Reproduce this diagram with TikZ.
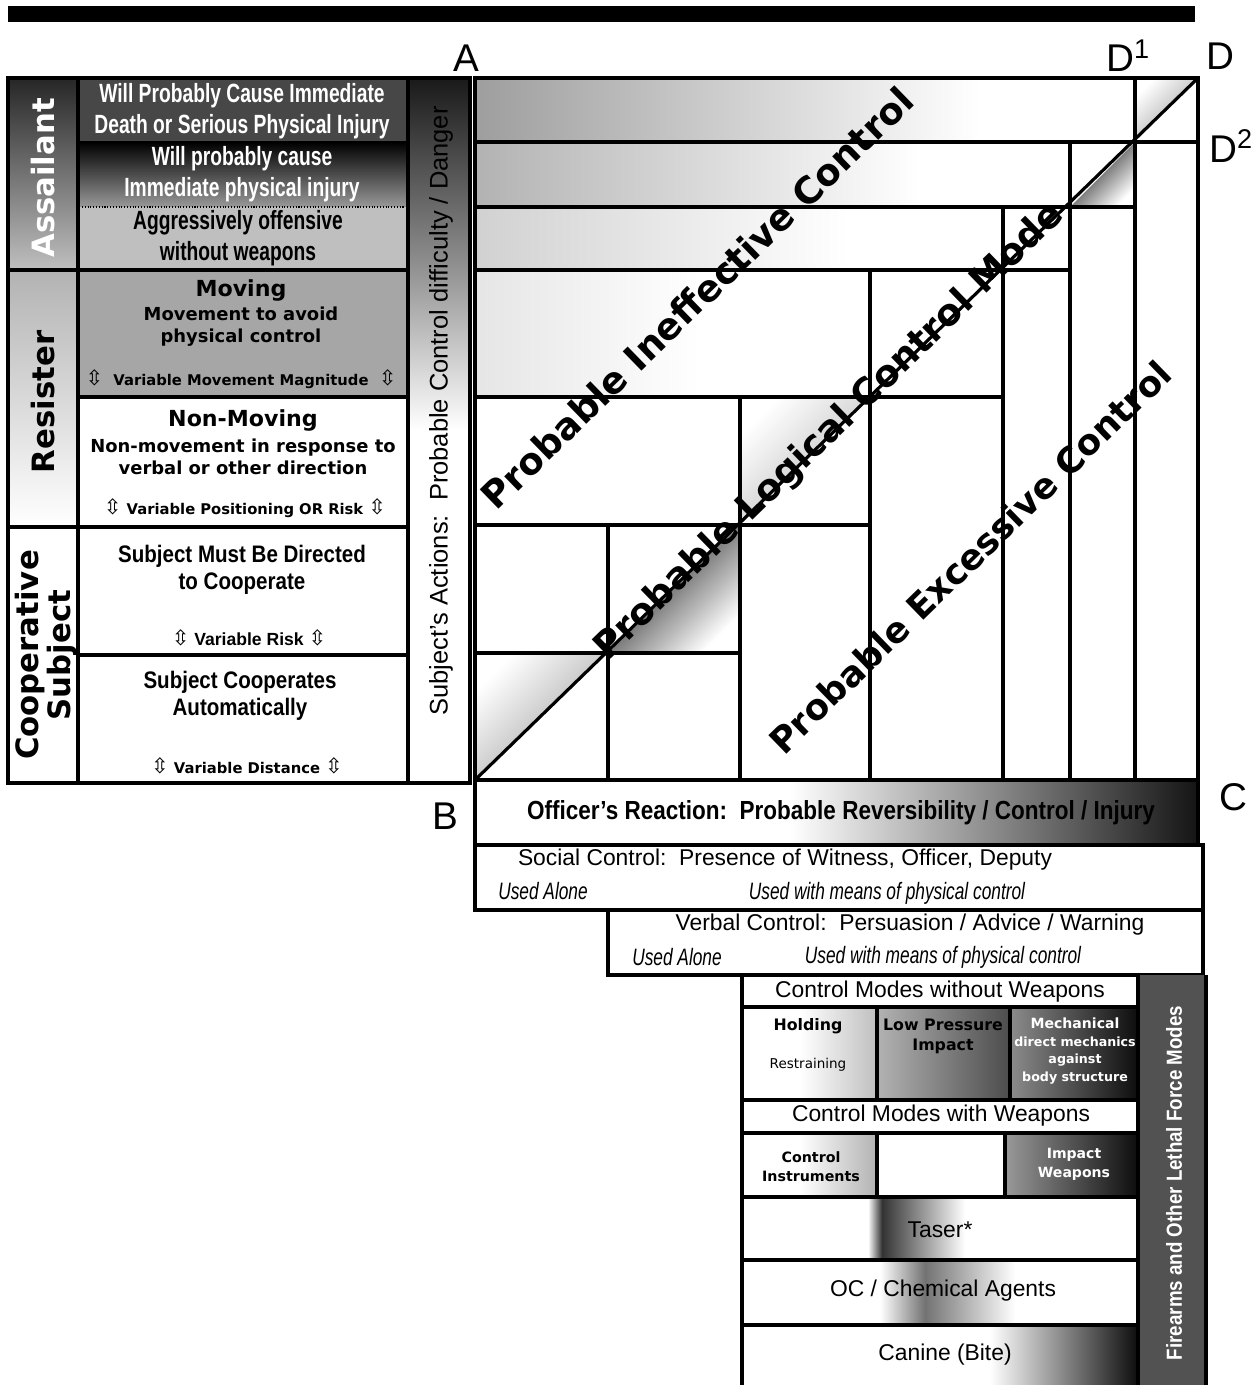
\documentclass[tikz,border=0pt]{standalone}
\usepackage{fontspec}
\setmainfont{Liberation Sans}
\newfontfamily\narrowfont[FakeStretch=0.73]{Liberation Sans}
\newfontfamily\semifont[FakeStretch=0.86]{Liberation Sans}
\newfontfamily\widefont{DejaVu Sans}
\newfontfamily\arrfont{DejaVu Sans}
\usetikzlibrary{positioning,calc}
\newcommand{\updn}{{\arrfont\mdseries\fontsize{12}{12}\selectfont ⇳}}

\begin{document}
\begin{tikzpicture}[x=0.02cm, y=-0.02cm]

    \tikzstyle{boxLine}=[line width=1.8pt, draw=black]
    \tikzstyle{dotLine}=[line width=0.6pt, draw=black, densely dotted]
    \tikzstyle{cellText}=[align=center, inner sep=0pt]
    \tikzstyle{condText}=[cellText, font=\narrowfont\bfseries\fontsize{15}{17.6}\selectfont]
    \tikzstyle{semiText}=[cellText, font=\semifont\bfseries\fontsize{13.6}{15.4}\selectfont]
    \tikzstyle{wideHead}=[cellText, font=\widefont\bfseries\fontsize{12.6}{14}\selectfont]
    \tikzstyle{wideText}=[cellText, font=\widefont\bfseries\fontsize{10.2}{12.5}\selectfont]
    \tikzstyle{wideSmall}=[cellText, font=\widefont\bfseries\fontsize{8.4}{10}\selectfont]
    \tikzstyle{category}=[cellText, rotate=90, font=\widefont\bfseries\fontsize{17.5}{18}\selectfont]
    \tikzstyle{zoneText}=[cellText, rotate=44.2, font=\widefont\bfseries\fontsize{21}{24}\selectfont]
    \tikzstyle{cornerLabel}=[inner sep=0pt, font=\fontsize{22}{24}\selectfont]
    \tikzstyle{plainText}=[cellText, font=\fontsize{13}{15}\selectfont]
    \tikzstyle{usedText}=[cellText, font=\narrowfont\itshape\fontsize{13.5}{15}\selectfont]
    \tikzstyle{modeText}=[cellText, font=\widefont\bfseries\fontsize{9}{11.3}\selectfont]

    \useasboundingbox (0,0) rectangle (1260,1385);
    \fill[white] (0,0) rectangle (1260,1385);

    % Spacing of the chart
    \def\gridL{475}
    \def\gridR{1198}
    \def\gridT{78}
    \def\gridB{780}

    % Title bar
    \fill[black] (8,6) rectangle (1195,22);

    % Subject side: backgrounds
    \shade[top color=black!85, bottom color=black!25] (8,78) rectangle (78,270);
    \fill[black!72] (78,78) rectangle (408,142);
    \shade[top color=black, bottom color=black!40] (78,142) rectangle (408,207);
    \fill[black!25] (78,207) rectangle (408,270);
    \shade[top color=black!30, bottom color=white] (8,270) rectangle (78,527);
    \fill[black!35] (78,270) rectangle (408,397);
    \shade[top color=black!90, bottom color=black!45] (408,78) rectangle (470,260);
    \shade[top color=black!45, bottom color=white] (408,260) rectangle (470,430);

    % Subject side: lines
    \draw[boxLine] (8,78) rectangle (470,783);
    \draw[boxLine] (78,78) -- (78,783);
    \draw[boxLine] (408,78) -- (408,783);
    \draw[boxLine] (8,270) -- (408,270);
    \draw[boxLine] (8,527) -- (408,527);
    \draw[boxLine] (78,397) -- (408,397);
    \draw[boxLine] (78,655) -- (408,655);
    \draw[dotLine] (82,142) -- (404,142);
    \draw[dotLine] (82,207) -- (404,207);

    % Subject categories
    \node at (43,178) [category, text=white] (assailant) {Assailant};
    \node at (43,402) [category] (resister) {Resister};
    \node at (46,655) [category] (cooperative) {Cooperative\\Subject};

    % Subject actions
    \node at (242,111) [condText, text=white] (deadly) {Will Probably Cause Immediate\\Death or Serious Physical Injury};
    \node at (242,174) [condText, text=white] (injury) {Will probably cause\\Immediate physical injury};
    \node at (238,238) [condText] (offensive) {Aggressively offensive\\without weapons};
    \node at (241,290) [wideHead] (moving) {Moving};
    \node at (241,327) [wideText] (movingSub) {Movement to avoid\\physical control};
    \node at (241,379) [wideSmall] (movingVar) {\updn\ \ Variable Movement Magnitude\ \ \updn};
    \node at (243,420) [wideHead] (nonMoving) {Non-Moving};
    \node at (243,457) [wideText] (nonMovingSub) {Non-movement in response to\\verbal or other direction};
    \node at (245,508) [wideSmall] (nonMovingVar) {\updn\ Variable Positioning OR Risk \updn};
    \node at (242,570) [semiText] (directed) {Subject Must Be Directed\\to Cooperate};
    \node at (249,638) [cellText, font=\bfseries\fontsize{10}{12}\selectfont] (directedVar) {\updn\ Variable Risk \updn};
    \node at (240,696) [semiText] (automatic) {Subject Cooperates\\Automatically};
    \node at (247,766) [wideSmall] (automaticVar) {\updn\ Variable Distance \updn};
    \node at (441,411) [cellText, rotate=90, font=\fontsize{14.5}{16}\selectfont] (danger) {Subject’s Actions:\ \ Probable Control difficulty / Danger};

    % Grid: shading
    \shade[left color=black!38, right color=white] (477,80) rectangle (980,141);
    \shade[left color=black!30, right color=white] (477,143) rectangle (920,206);
    \shade[left color=black!18, right color=white] (477,208) rectangle (850,269);
    \shade[left color=black!10, right color=white] (477,271) rectangle (700,396);
    \shade[top color=black, middle color=black!60, bottom color=white, shading angle=45] (608,653) -- (740,525) -- (740,653) -- cycle;
    \shade[top color=black, middle color=black!65, bottom color=white, shading angle=45] (1070,207) -- (1135,142) -- (1135,207) -- cycle;
    \shade[top color=white, middle color=black!25, bottom color=black!40, shading angle=45] (475,780) -- (608,653) -- (475,653) -- cycle;
    \shade[top color=white, middle color=black!25, bottom color=black!40, shading angle=45] (1135,142) -- (1198,78) -- (1135,78) -- cycle;
    \shade[top color=white, middle color=black!18, bottom color=black!30, shading angle=45] (740,525) -- (870,397) -- (740,397) -- cycle;

    % Grid: staircase
    \draw[boxLine] (\gridL,\gridT) rectangle (\gridR,\gridB);
    \foreach \xa/\ya/\xb/\yb in {608/653/740/525, 740/525/870/397, 870/397/1003/270, 1003/270/1070/207, 1070/207/1135/142, 1135/142/1198/78}
        \draw[boxLine] (\gridL,\ya) -- (\xb,\ya) (\xa,\gridB) -- (\xa,\yb);

    % Corners
    \coordinate (B) at (\gridL,\gridB);
    \coordinate (D) at (\gridR,\gridT);
    \draw[boxLine] (B) -- (D);
    \node at (466,58) [cornerLabel] (labA) {A};
    \node at (1128,56) [cornerLabel] (labD1) {D\textsuperscript{1}};
    \node at (1220,56) [cornerLabel] (labD) {D};
    \node at (1231,146) [cornerLabel] (labD2) {D\textsuperscript{2}};
    \node at (445,816) [cornerLabel] (labB) {B};
    \node at (1233,797) [cornerLabel] (labC) {C};

    % Zones
    \node at (697,298) [zoneText] (ineffective) {Probable Ineffective Control};
    \node at (830,432) [zoneText] (logical) {Probable Logical Control Mode};
    \node at (970,557) [zoneText, font=\widefont\bfseries\fontsize{20.2}{24}\selectfont] (excessive) {Probable Excessive Control};

    % Officer side: bands
    \shade[left color=white, right color=black!92] (790,780) rectangle (1198,845);
    \draw[boxLine] (\gridL,\gridB) rectangle (\gridR,845);
    \draw[boxLine] (475,845) rectangle (1203,910);
    \draw[boxLine] (608,910) rectangle (1203,975);
    \node at (841,813) [cellText, font=\semifont\bfseries\fontsize{14.9}{16}\selectfont] (reaction) {Officer’s Reaction:\ \ Probable Reversibility / Control / Injury};
    \node at (785,860) [plainText] (social) {Social Control:\ \ Presence of Witness, Officer, Deputy};
    \node at (543,891) [usedText] (socialAlone) {Used Alone};
    \node at (887,893) [usedText] (socialWith) {Used with means of physical control};
    \node at (910,925) [plainText] (verbal) {Verbal Control:\ \ Persuasion / Advice / Warning};
    \node at (677,957) [usedText] (verbalAlone) {Used Alone};
    \node at (943,957) [usedText] (verbalWith) {Used with means of physical control};

    % Officer side: control modes
    \fill[black!68] (1138,975) rectangle (1206,1385);
    \shade[left color=white, right color=black!25] (800,1007) rectangle (877,1100);
    \shade[left color=black!30, right color=black!70] (877,1007) rectangle (1010,1100);
    \shade[left color=black!45, right color=black!95] (1010,1007) rectangle (1138,1100);
    \shade[left color=white, right color=black!30] (800,1133) rectangle (877,1197);
    \shade[left color=black!40, right color=black!95] (1005,1133) rectangle (1138,1197);
    \shade[left color=white, right color=black!80] (868,1197) rectangle (882,1260);
    \shade[left color=black!80, right color=white] (882,1197) rectangle (965,1260);
    \shade[left color=white, right color=black!55] (880,1260) rectangle (925,1325);
    \shade[left color=black!55, right color=white] (925,1260) rectangle (1015,1325);
    \shade[left color=white, right color=black!95] (990,1325) rectangle (1138,1385);

    \draw[boxLine] (742,975) -- (742,1385);
    \draw[boxLine] (1138,975) -- (1138,1385);
    \draw[boxLine] (1206,975) -- (1206,1385);
    \draw[boxLine] (742,1007) -- (1138,1007);
    \draw[boxLine] (742,1100) -- (1138,1100);
    \draw[boxLine] (742,1133) -- (1138,1133);
    \draw[boxLine] (742,1197) -- (1138,1197);
    \draw[boxLine] (742,1260) -- (1138,1260);
    \draw[boxLine] (742,1325) -- (1138,1325);
    \draw[boxLine] (877,1007) -- (877,1100);
    \draw[boxLine] (1010,1007) -- (1010,1100);
    \draw[boxLine] (877,1133) -- (877,1197);
    \draw[boxLine] (1005,1133) -- (1005,1197);

    \node at (940,992) [plainText] (without) {Control Modes without Weapons};
    \node at (808,1026) [modeText] (holding) {Holding};
    \node at (808,1065) [cellText, font=\widefont\fontsize{7.7}{9}\selectfont] (restraining) {Restraining};
    \node at (943,1036) [modeText] (lowPressure) {Low Pressure\\Impact};
    \node at (1075,1051) [cellText, text=white, font=\widefont\bfseries\fontsize{7.2}{10}\selectfont] (mechanical) {{\fontsize{8}{10}\selectfont Mechanical}\\direct mechanics\\against\\body structure};
    \node at (941,1116) [plainText] (with) {Control Modes with Weapons};
    \node at (811,1167) [cellText, font=\widefont\bfseries\fontsize{8.1}{10.7}\selectfont] (instruments) {Control\\Instruments};
    \node at (1074,1164) [cellText, text=white, font=\widefont\bfseries\fontsize{8}{10.7}\selectfont] (impact) {Impact\\Weapons};
    \node at (940,1230) [plainText] (taser) {Taser*};
    \node at (943,1291) [plainText] (chemical) {OC / Chemical Agents};
    \node at (945,1355) [plainText] (canine) {Canine (Bite)};
    \node at (1174,1183) [cellText, rotate=90, text=white, font=\semifont\bfseries\fontsize{12.4}{14}\selectfont] (lethal) {Firearms and Other Lethal Force Modes};

\end{tikzpicture}
\end{document}
